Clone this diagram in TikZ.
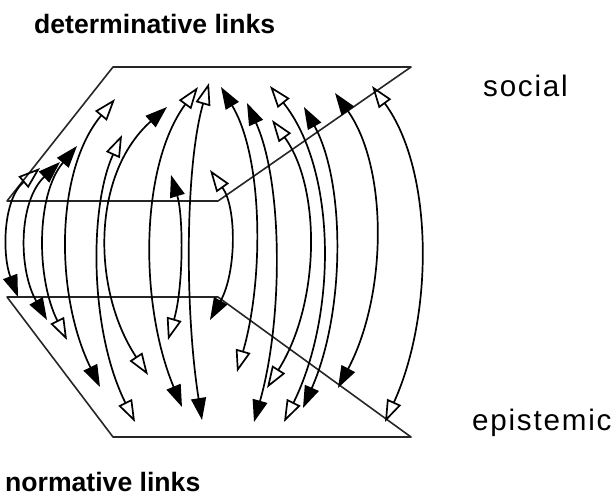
\documentclass[tikz,border=0pt]{standalone}
\usepackage{fontspec}
\setmainfont{Liberation Sans}
\newfontfamily\spaced[LetterSpace=6]{Liberation Sans}
\usetikzlibrary{arrows.meta}

\tikzset{
  opnhead/.tip={Triangle[open,length=22pt,width=15pt]},
  fullhead/.tip={Triangle[length=22pt,width=15pt]},
  plane/.style={draw=black!85,line width=1.6pt,line join=round},
  link/.style={line width=1.7pt},
  linkoo/.style={link,arrows={opnhead-opnhead}},
  linkof/.style={link,arrows={opnhead-fullhead}},
  linkfo/.style={link,arrows={fullhead-opnhead}},
  linkff/.style={link,arrows={fullhead-fullhead}},
  title/.style={anchor=base west,inner sep=0pt,font=\bfseries\fontsize{26.6}{30}\selectfont},
  layer/.style={anchor=base west,inner sep=0pt,font=\spaced\fontsize{29.6}{34}\selectfont}
}

\begin{document}
\begin{tikzpicture}[x=1pt,y=-1pt]
  \useasboundingbox (0,0) rectangle (612,503);
  % the two planes
  \draw[plane] (7,201) -- (113,67) -- (411,67) -- (218,201) -- cycle;
  \draw[plane] (7,297) -- (113,437) -- (411,437) -- (218,297) -- cycle;
  % links between the planes
  \foreach \i/\tx/\ty/\m/\bx/\by/\kind in {
      1/40/168/9/18/297/of, 2/60/162/27/47/320/ff, 3/77/146/45/67/340/fo,
      4/115/99/68/100/387/of, 5/122/135/99/135/422/oo, 6/167/107/108/148/375/fo,
      7/198/87/152/182/407/of, 8/171/175/180/168/340/fo, 9/209/83/190/202/420/of,
      10/210/170/230/210/320/of, 11/221/87/255/237/372/fo, 12/247/103/275/254/422/ff,
      13/272/120/308/267/388/oo, 14/270/86/322/284/422/oo, 15/304/107/335/303/408/ff,
      16/335/93/375/338/388/ff, 17/372/86/420/385/422/oo} {
    \pgfmathsetmacro{\c}{(8*\m-\tx-\bx)/6}
    \pgfmathsetmacro{\ya}{\ty+0.25*(\by-\ty)}
    \pgfmathsetmacro{\yb}{\by-0.32*(\by-\ty)}
    \coordinate (top\i) at (\tx,\ty);
    \coordinate (bot\i) at (\bx,\by);
    \draw[link\kind] (top\i) .. controls (\c,\ya) and (\c,\yb) .. (bot\i);
  }
  % labels
  \node[title] (detlab) at (34,34) {determinative links};
  \node[layer] (soclab) at (483,96) {social};
  \node[layer] (epilab) at (472,430) {epistemic};
  \node[title] (normlab) at (5,491) {normative links};
\end{tikzpicture}
\end{document}
